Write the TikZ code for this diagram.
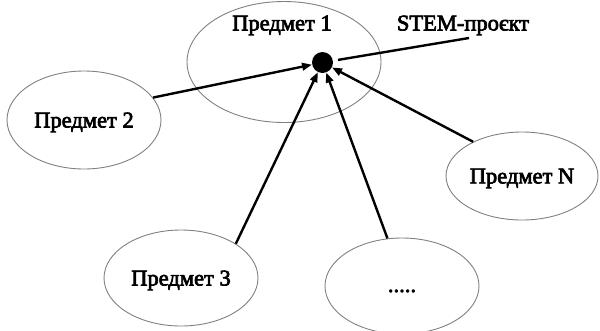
\documentclass[tikz,border=0pt]{standalone}
\usepackage{fontspec}
\setmainfont{Liberation Serif}
\newfontfamily\reffont{Liberation Serif}[FakeBold=3]
\usetikzlibrary{shapes.geometric,arrows.meta}
\begin{document}
\begin{tikzpicture}[x=1pt,y=-1pt,
  subj/.style={draw=black!50,line width=0.9pt,ellipse,inner sep=0pt,text depth=0pt,
    font=\reffont\fontsize{22.5}{24}\selectfont},
  lbl/.style={inner sep=0pt,text depth=0pt,font=\reffont\fontsize{22.5}{24}\selectfont},
  arr/.style={line width=2.4pt,-{Triangle[length=10pt,width=7.5pt]}},
  conn/.style={line width=2.4pt}]
\useasboundingbox (0,0) rectangle (600,330);
\node[subj,minimum width=194pt,minimum height=121pt] (e1) at (284,62) {};
\node[lbl] (t1) at (282,23) {Предмет 1};
\node[lbl] (stem) at (463,23) {STEM-проєкт};
\coordinate (stemend) at (469,38);
\node[subj,minimum width=154pt,minimum height=98pt] (e2) at (84,120) {Предмет 2};
\node[subj,minimum width=154pt,minimum height=96pt] (e3) at (181,278) {Предмет 3};
\node[subj,minimum width=154pt,minimum height=96pt] (e4) at (402,286) {\raisebox{-6pt}{.....}};
\node[subj,minimum width=152pt,minimum height=88pt] (eN) at (522,176) {Предмет N};
\node[circle,fill=black,inner sep=0pt,minimum size=21pt] (dot) at (322.5,62.5) {};
\draw[conn,shorten <=5pt] (dot) -- (stemend);
\draw[arr] (e2.18) -- (dot);
\draw[arr] (e3.32) -- (dot);
\draw[arr] (e4.107.7) -- (dot);
\draw[arr] (eN.145.5) -- (dot);
\end{tikzpicture}
\end{document}
